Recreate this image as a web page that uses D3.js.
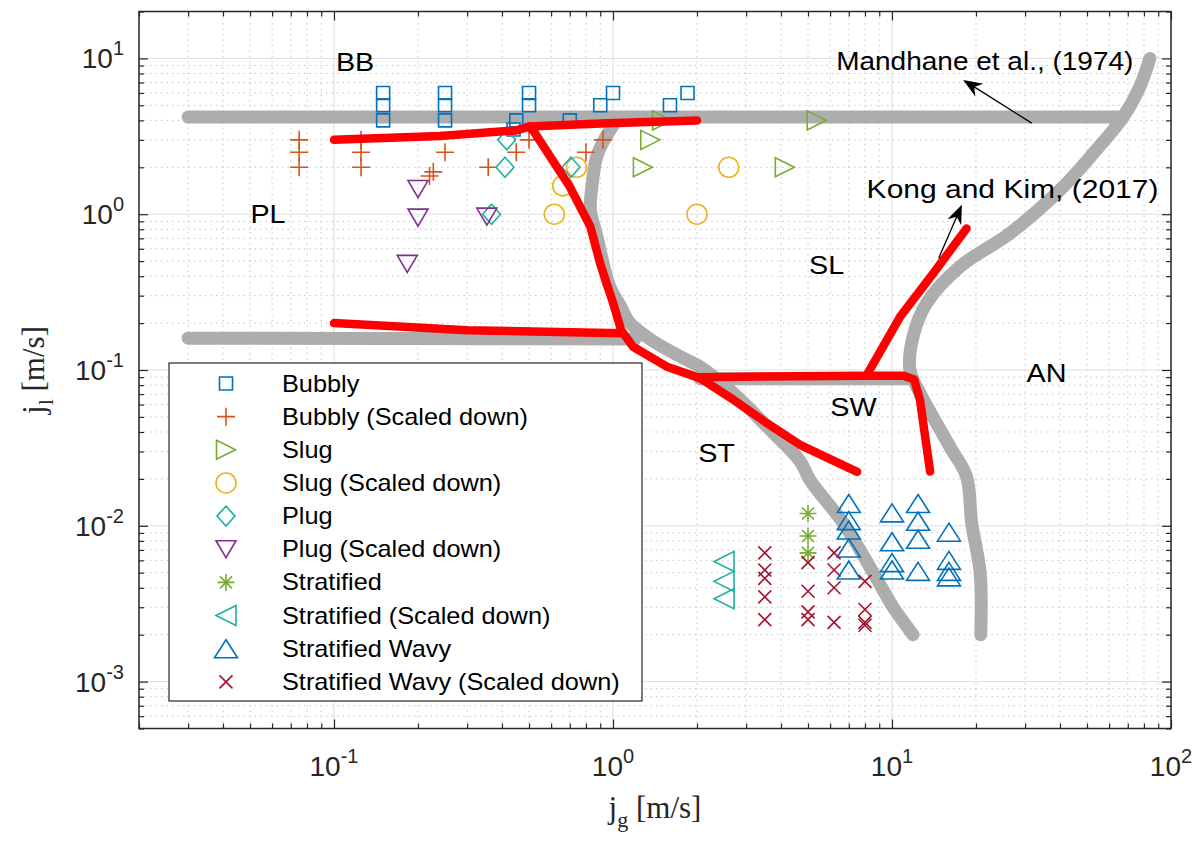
<!DOCTYPE html>
<html>
<head>
<meta charset="utf-8">
<script src="https://cdn.jsdelivr.net/npm/d3@7"></script>
<style>
  body { margin: 0; background: #fff; }
  svg { display: block; font-family: "Liberation Sans", Arial, sans-serif; }
</style>
</head>
<body>
<svg id="chart" width="1200" height="845"></svg>
<script>
// ---- measured points [jg, jl] in m/s ----
const bubbly = [[0.15,4],[0.15,5],[0.15,6],[0.25,4],[0.25,5],[0.25,6],[0.45,4],[0.44,3.5],
    [0.5,5],[0.5,6],[0.7,4],[0.9,5],[1.0,6],[1.6,5],[1.85,6]];
const bubblyScaled = [[0.075,2],[0.075,2.5],[0.075,3],[0.125,2],[0.125,2.5],[0.125,3],
    [0.227,1.87],[0.22,1.76],[0.25,2.5],[0.357,2],[0.45,2.5],[0.5,3],[0.8,2.5],[0.92,3]];
const slug = [[1.5,4],[1.36,3],[1.28,2],[5.37,4],[4.13,2]];
const slugScaled = [[2.6,2],[2.0,1],[0.616,1],[0.66,1.52],[0.74,2]];
const plug = [[0.416,3],[0.41,2],[0.707,2],[0.367,1]];
const plugScaled = [[0.2,1.45],[0.2,0.95],[0.183,0.48],[0.353,0.965]];
const stratified = [[5,0.012],[5,0.0086],[5,0.0067]];
const stratifiedScaled = [[2.5,0.0059],[2.5,0.0044],[2.5,0.0034]];
const stratWavy = [[7,0.0139],[7,0.0108],[7,0.0094],[7,0.0072],[7,0.0052],
    [10,0.0121],[10,0.0079],[10,0.0058],[10,0.0052],
    [12.4,0.0139],[12.4,0.0107],[12.4,0.0082],[12.4,0.0051],
    [16,0.0091],[16,0.006],[16,0.0051],[16,0.0047]];
const stratWavyScaled = [[3.5,0.0067],[3.5,0.0052],[3.5,0.0046],[3.5,0.0035],[3.5,0.0025],
    [5,0.0058],[5,0.0038],[5,0.0028],[5,0.0025],
    [6.2,0.0067],[6.2,0.0052],[6.2,0.004],[6.2,0.0024],
    [8,0.0044],[8,0.0029],[8,0.0024],[8,0.0023]];

// ---- transition boundaries ----
const mandhaneTop = [[0.03,4.2],[67,4.2]];
const mandhaneLow = [[0.03,0.16],[1.2,0.158]];
const mandhaneSW = [[2.05,0.088],[11.6,0.088]];
const mandhaneST = [[1.0,3.7],[0.93,3.0],[0.874,2.34],[0.84,1.5],[0.83,1.06],[0.87,0.755],[0.975,0.34],
    [1.06,0.26],[1.15,0.2],[1.4,0.152],[1.84,0.116],[2.05,0.105],[2.7,0.071],[3.56,0.0434],
    [4.68,0.026],[5.08,0.0197],[6.69,0.0104],[8.57,0.005],[10.1,0.003],[11.9,0.002]];
const mandhaneAN = [[84,10],[77.4,6.6],[67.5,4.23],[52.7,2.46],[40,1.43],[26.5,0.755],[17.5,0.46],
    [13.3,0.268],[11.9,0.164],[11.6,0.1],[12.6,0.071],[16.1,0.0323],[18.5,0.0207],[19.3,0.0104],
    [20.7,0.005],[20.8,0.002]];
const kongTop = [[0.1,3.0],[0.24,3.18],[0.45,3.45],[0.5,3.65],[0.95,3.84],[2.0,4.0]];
const kongDiag = [[0.5,3.65],[0.52,3.4],[0.7,1.5],[0.83,0.83],[0.9,0.48],[1.0,0.27],[1.07,0.18],
    [1.18,0.141],[1.56,0.105],[2.05,0.0887],[2.7,0.0645],[3.56,0.0456],[4.68,0.0331],[7.5,0.0222]];
const kongLow = [[0.1,0.2],[0.3,0.18],[1.07,0.172]];
const kongSW = [[2.0,0.09],[8.1,0.092],[11.0,0.092],[12.0,0.087],[12.6,0.064],[13.1,0.039],[13.7,0.0223]];
const kongAN = [[8.1,0.092],[10.7,0.22],[14.1,0.42],[18.5,0.81]];

const legendNames = ["Bubbly", "Bubbly (Scaled down)", "Slug", "Slug (Scaled down)", "Plug",
    "Plug (Scaled down)", "Stratified", "Stratified (Scaled down)", "Stratified Wavy",
    "Stratified Wavy (Scaled down)"];
const regionNames = ["BB", "PL", "SL", "SW", "ST", "AN"];
const regionPos = [[0.119,9.5],[0.058,1.0],[5.83,0.473],[7.27,0.0583],[2.35,0.0293],[35.8,0.0955]];
const xMajor = [0.1, 1, 10, 100];
const yMajor = [1e-3, 1e-2, 1e-1, 1, 10];

const svg = d3.select("#chart");
const x = d3.scaleLog().domain([0.02, 100]).range([139, 1171]);
const y = d3.scaleLog().domain([5e-4, 20]).range([728.5, 11.5]);
const [x0, x1] = x.range(), [y0, y1] = y.range();
const ink = "#262626";

function minorsOf(lo, hi) {
    const out = [];
    for (let e = Math.floor(Math.log10(lo)); e <= Math.ceil(Math.log10(hi)); e++) {
        for (let k = 2; k < 10; k++) {
            const v = +(k * Math.pow(10, e)).toPrecision(6);
            if (v >= lo * 0.999 && v <= hi * 1.001) out.push(v);
        }
    }
    return out;
}
const xMinor = minorsOf(0.02, 100), yMinor = minorsOf(5e-4, 20);

// grid
const grid = svg.append("g");
grid.selectAll(".gxm").data(xMinor).join("line")
    .attr("x1", x).attr("x2", x).attr("y1", y0).attr("y2", y1)
    .attr("stroke", "#c6c6c6").attr("stroke-dasharray", "1.5,4");
grid.selectAll(".gym").data(yMinor).join("line")
    .attr("y1", y).attr("y2", y).attr("x1", x0).attr("x2", x1)
    .attr("stroke", "#c6c6c6").attr("stroke-dasharray", "1.5,4");
grid.selectAll(".gx").data(xMajor.slice(0, -1)).join("line")
    .attr("x1", x).attr("x2", x).attr("y1", y0).attr("y2", y1)
    .attr("stroke", "#dedede");
grid.selectAll(".gy").data(yMajor).join("line")
    .attr("y1", y).attr("y2", y).attr("x1", x0).attr("x2", x1)
    .attr("stroke", "#dedede");

// boundaries
const line = d3.line().x(d => x(d[0])).y(d => y(d[1])).curve(d3.curveCatmullRom.alpha(0.5));
const straight = d3.line().x(d => x(d[0])).y(d => y(d[1]));
[mandhaneTop, mandhaneLow, mandhaneSW, mandhaneST, mandhaneAN].forEach(d => {
    svg.append("path").attr("d", line(d)).attr("fill", "none")
        .attr("stroke", "#adadad").attr("stroke-width", 13)
        .attr("stroke-linecap", "round").attr("stroke-linejoin", "round");
});

// markers
const shapes = {
    square: `M-6.5,-6.5h13v13h-13Z`,
    plus: `M-9,0H9M0,-9V9`,
    triRight: `M-9.5,-9.5L9.5,0L-9.5,9.5Z`,
    circle: `M10,0A10,10 0 1,1 -10,0A10,10 0 1,1 10,0Z`,
    diamond: `M0,-10L9,0L0,10L-9,0Z`,
    triDown: `M-10,-8.5H10L0,8.5Z`,
    asterisk: `M-8.5,0H8.5M0,-8.5V8.5M-6,-6L6,6M-6,6L6,-6`,
    triLeft: `M10,-10L-10,0L10,10Z`,
    triUp: `M0,-9L11.5,9H-11.5Z`,
    cross: `M-6.5,-6.5L6.5,6.5M-6.5,6.5L6.5,-6.5`
};
const series = [
    { data: bubbly, shape: "square", color: "#0072BD" },
    { data: bubblyScaled, shape: "plus", color: "#D95319" },
    { data: slug, shape: "triRight", color: "#77AC30" },
    { data: slugScaled, shape: "circle", color: "#EDB120" },
    { data: plug, shape: "diamond", color: "#1FB0A0" },
    { data: plugScaled, shape: "triDown", color: "#7E2F8E" },
    { data: stratified, shape: "asterisk", color: "#77AC30" },
    { data: stratifiedScaled, shape: "triLeft", color: "#1FB0A0" },
    { data: stratWavy, shape: "triUp", color: "#0072BD" },
    { data: stratWavyScaled, shape: "cross", color: "#A2142F" }
].map((s, i) => ({ ...s, name: legendNames[i] }));

series.forEach(s => {
    svg.append("g").selectAll("path").data(s.data).join("path")
        .attr("transform", d => `translate(${x(d[0])},${y(d[1])})`)
        .attr("d", shapes[s.shape])
        .attr("fill", "none").attr("stroke", s.color).attr("stroke-width", 1.6);
});

[kongTop, kongDiag, kongLow, kongSW, kongAN].forEach(d => {
    svg.append("path").attr("d", straight(d)).attr("fill", "none")
        .attr("stroke", "#ff0000").attr("stroke-width", 8.5)
        .attr("stroke-linecap", "round").attr("stroke-linejoin", "round");
});

// axes box and ticks
function tickSet(axisFn, scale, vals, size, transform) {
    const g = svg.append("g").attr("transform", transform)
        .call(axisFn(scale).tickValues(vals).tickSize(-size).tickSizeOuter(0).tickFormat(""));
    g.select(".domain").remove();
    g.selectAll("line").attr("stroke", ink).attr("stroke-width", 1.2);
}
tickSet(d3.axisBottom, x, xMajor, 9, `translate(0,${y0})`);
tickSet(d3.axisBottom, x, xMinor, 5, `translate(0,${y0})`);
tickSet(d3.axisTop, x, xMajor, 9, `translate(0,${y1})`);
tickSet(d3.axisTop, x, xMinor, 5, `translate(0,${y1})`);
tickSet(d3.axisLeft, y, yMajor, 9, `translate(${x0},0)`);
tickSet(d3.axisLeft, y, yMinor, 5, `translate(${x0},0)`);
tickSet(d3.axisRight, y, yMajor, 9, `translate(${x1},0)`);
tickSet(d3.axisRight, y, yMinor, 5, `translate(${x1},0)`);
svg.append("rect").attr("x", x0).attr("y", y1).attr("width", x1 - x0).attr("height", y0 - y1)
    .attr("fill", "none").attr("stroke", ink).attr("stroke-width", 1.5);

function powLabel(sel, v) {
    sel.append("tspan").text("10");
    sel.append("tspan").attr("dy", -13).attr("font-size", 20).text(Math.round(Math.log10(v)));
}
svg.append("g").selectAll("text").data(xMajor).join("text")
    .attr("x", x).attr("y", 776).attr("text-anchor", "middle")
    .attr("font-size", 28).attr("fill", ink)
    .each(function(d) { powLabel(d3.select(this), d); });
svg.append("g").selectAll("text").data(yMajor).join("text")
    .attr("x", 124).attr("y", d => y(d) + 10).attr("text-anchor", "end")
    .attr("font-size", 28).attr("fill", ink)
    .each(function(d) { powLabel(d3.select(this), d); });

// axis titles
const xt = svg.append("text").attr("x", (x0 + x1) / 2).attr("y", 818).attr("text-anchor", "middle")
    .attr("font-family", "'Liberation Serif', 'Times New Roman', serif").attr("font-size", 31).attr("fill", ink);
xt.append("tspan").text("j");
xt.append("tspan").attr("dy", 9).attr("font-size", 22).text("g");
xt.append("tspan").attr("dy", -9).text(" [m/s]");
const yt = svg.append("text").attr("transform", `translate(44,${(y0 + y1) / 2}) rotate(-90)`)
    .attr("text-anchor", "middle")
    .attr("font-family", "'Liberation Serif', 'Times New Roman', serif").attr("font-size", 31).attr("fill", ink);
yt.append("tspan").text("j");
yt.append("tspan").attr("dy", 9).attr("font-size", 22).text("l");
yt.append("tspan").attr("dy", -9).text(" [m/s]");

// the figure's text is drawn a little wider than the font, so stretch it sideways
function wideText(px, py, str, size, sx, anchor) {
    return svg.append("text").attr("transform", `translate(${px},${py}) scale(${sx},1)`)
        .attr("text-anchor", anchor).attr("font-size", size).attr("fill", "#000").text(str);
}

// region labels
regionNames.forEach((name, i) => {
    wideText(x(regionPos[i][0]), y(regionPos[i][1]) + 9, name, 25, 1.15, "middle");
});

// annotations with arrows
function arrow(tail, head) {
    const tx = x(tail[0]), ty = y(tail[1]), hx = x(head[0]), hy = y(head[1]);
    const a = Math.atan2(hy - ty, hx - tx), L = 19, Wd = 7.5, notch = 13;
    const pt = (d, s) => [hx - d * Math.cos(a) - s * Math.sin(a), hy - d * Math.sin(a) + s * Math.cos(a)];
    svg.append("line").attr("x1", tx).attr("y1", ty)
        .attr("x2", pt(notch, 0)[0]).attr("y2", pt(notch, 0)[1])
        .attr("stroke", "#000").attr("stroke-width", 1.3);
    svg.append("path").attr("d", "M" + [[hx, hy], pt(L, Wd), pt(notch, 0), pt(L, -Wd)].join("L") + "Z")
        .attr("fill", "#000");
}
wideText(x(73.3), y(8.4), "Mandhane et al., (1974)", 25, 1.12, "end");
arrow([31.7, 3.84], [18.0, 7.27]);
wideText(x(8.11), y(1.27), "Kong and Kim, (2017)", 25, 1.2, "start");
arrow([14.7, 0.522], [17.8, 1.15]);

// legend
const lg = svg.append("g").attr("transform", "translate(169,363)");
lg.append("rect").attr("width", 473).attr("height", 338)
    .attr("fill", "#fff").attr("stroke", ink).attr("stroke-width", 1.2);
const rows = lg.selectAll("g").data(series).join("g")
    .attr("transform", (d, i) => `translate(0,${20.5 + i * 33.15})`);
rows.append("path").attr("transform", "translate(57,0)").attr("d", d => shapes[d.shape])
    .attr("fill", "none").attr("stroke", d => d.color).attr("stroke-width", 1.6);
rows.append("text").attr("transform", "translate(113,8) scale(1.1,1)")
    .attr("font-size", 23).attr("fill", "#000")
    .text(d => d.name);
</script>
</body>
</html>
